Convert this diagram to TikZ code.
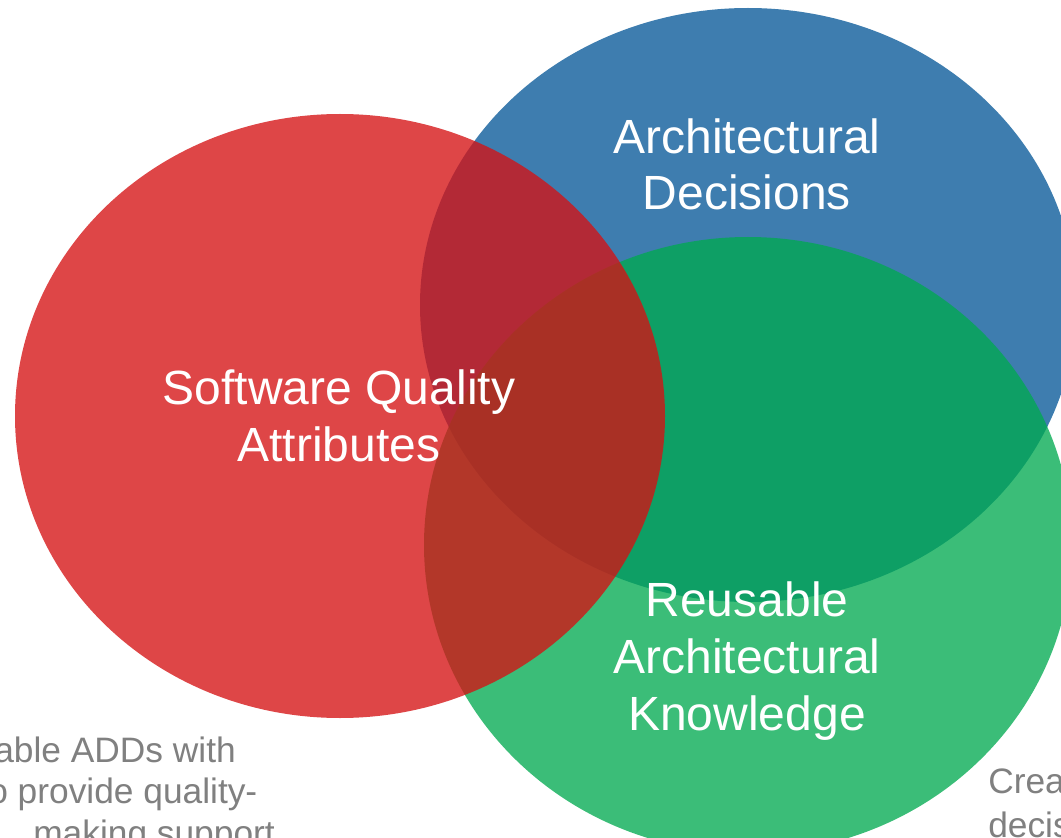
\documentclass[tikz,border=0pt]{standalone}
\usepackage{fontspec}
\setmainfont{Liberation Sans}
\usetikzlibrary{shapes.geometric}
\definecolor{cblue}{RGB}{62,125,175}
\definecolor{cgreen}{RGB}{0,170,80}
\definecolor{cred}{RGB}{213,18,20}
\definecolor{cgray}{RGB}{128,128,128}
\tikzset{
  blob/.style={ellipse, inner sep=0pt, draw=none},
  biglabel/.style={text=white, align=center, inner sep=0pt, anchor=base,
    font=\fontsize{36pt}{42.75pt}\selectfont},
  sidetext/.style={text=cgray, inner sep=0pt,
    font=\fontsize{26.5pt}{31pt}\selectfont}
}
\begin{document}
\begin{tikzpicture}[x=0.75pt,y=-0.75pt]
\useasboundingbox (0,0) rectangle (1061,838);
\clip (0,0) rectangle (1061,838);
\fill[white] (0,0) rectangle (1061,838);
% circles
\node[blob, fill=cblue, minimum width=492pt, minimum height=445.5pt] (blue) at (748,305) {};
\node[blob, fill=cgreen, fill opacity=0.77, minimum width=486pt, minimum height=462pt] (green) at (748,545) {};
\node[blob, fill=cred, fill opacity=0.78, minimum width=487.5pt, minimum height=453pt] (red) at (340,416) {};
% labels (anchor = baseline of the last line)
\node[biglabel] (ad) at (747,210) {Architectural\\Decisions};
\node[biglabel] (sqa) at (339,461) {Software Quality\\Attributes};
\node[biglabel] (rak) at (747,730) {Reusable\\Architectural\\Knowledge};
% side texts
\node[sidetext, anchor=base west] (l1) at (-6,762) {able ADDs with};
\node[sidetext, anchor=base west] (l2) at (-12,803) {o provide quality-};
\node[sidetext, anchor=base west] (l3) at (33,845) {making support};
\node[sidetext, anchor=base west, align=left, font=\fontsize{26.5pt}{33pt}\selectfont] (r1) at (988,837) {Crea\\decis};
\end{tikzpicture}
\end{document}
